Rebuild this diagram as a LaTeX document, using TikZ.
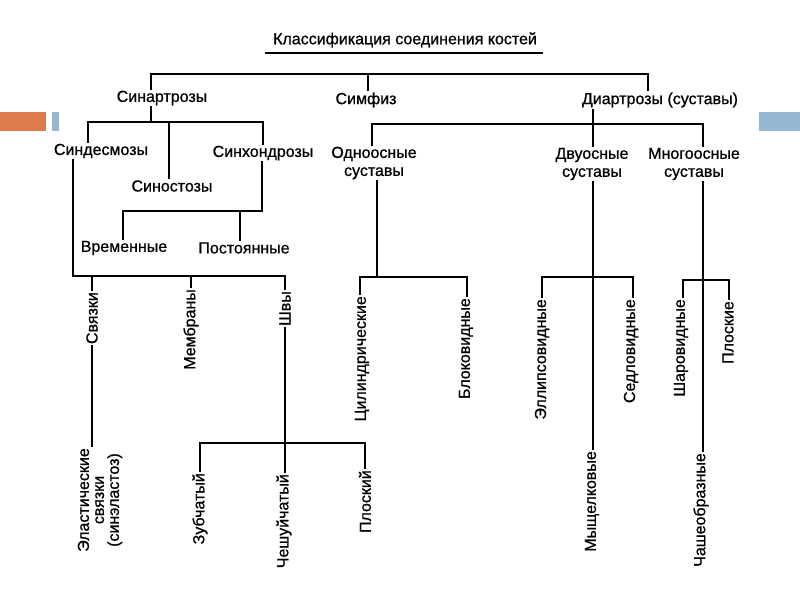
\documentclass[tikz,border=0pt]{standalone}
\usepackage{fontspec}
\setmainfont[FakeBold=0.8]{Liberation Sans}
\definecolor{barorange}{HTML}{E07B4B}
\definecolor{barblue}{HTML}{94B6D2}
\newcommand{\lbfont}{\fontsize{16}{18}\selectfont}
\tikzset{
  lbl/.style={font=\lbfont, inner sep=1pt, text=black},
  vlbl/.style={lbl, rotate=90, anchor=east},
  ln/.style={line width=1.7pt, black}
}
\begin{document}
\begin{tikzpicture}[x=1pt,y=-1pt]
\useasboundingbox (0,0) rectangle (800,600);
\fill[white] (0,0) rectangle (800,600);
% decorative bars
\fill[barorange] (0,112) rectangle (46,131);
\fill[barblue] (52,112) rectangle (59,131);
\fill[barblue] (759,112) rectangle (800,131);

% title
\node[lbl] (title) at (405,40) {Классификация соединения костей};
\draw[line width=2.4pt] (265,53) -- (543,53);

% level 1
\node[lbl] (sin) at (162,98) {Синартрозы};
\node[lbl] (simf) at (366,100) {Симфиз};
\node[lbl] (diar) at (660,100) {Диартрозы (суставы)};

\coordinate (T1) at (151,74);
\coordinate (T2) at (368,74);
\coordinate (T3) at (648,74);
\draw[ln] (T1 |- sin.north) -- (T1) -- (T3) -- (T3 |- diar.north);
\draw[ln] (T2) -- (T2 |- simf.north);

% synarthroses
\node[lbl] (sind) at (101,151) {Синдесмозы};
\node[lbl] (sinost) at (172,186) {Синостозы};
\node[lbl] (sinh) at (263,153) {Синхондрозы};
\coordinate (S0) at (151,122);
\coordinate (SA) at (88,122);
\coordinate (SB) at (169,122);
\coordinate (SC) at (263,122);
\draw[ln] (S0 |- sin.south) -- (S0);
\draw[ln] (SA |- sind.north) -- (SA) -- (SC) -- (SC |- sinh.north);
\draw[ln] (SB) -- (SB |- sinost.north);

% synchondroses
\node[lbl] (vrem) at (124,248) {Временные};
\node[lbl] (post) at (244,248) {Постоянные};
\coordinate (H0) at (262,211);
\coordinate (HA) at (123,211);
\coordinate (HB) at (240,211);
\draw[ln] (H0 |- sinh.south) -- (H0) -- (HA) -- (HA |- vrem.north);
\draw[ln] (HB) -- (HB |- post.north);

% syndesmoses
\node[vlbl] (svyaz) at (92,291) {Связки};
\node[vlbl] (memb) at (191,288) {Мембраны};
\node[vlbl] (shvy) at (285,290) {Швы};
\node[lbl, rotate=90, align=center, font=\fontsize{16}{15}\selectfont] (elast) at (100,500) {Эластические\\связки\\(синэластоз)};
\coordinate (D0) at (73,276);
\coordinate (DA) at (92,276);
\coordinate (DB) at (191,276);
\coordinate (DC) at (285,276);
\draw[ln] (D0 |- sind.south) -- (D0) -- (DC) -- (DC |- shvy.east);
\draw[ln] (DA) -- (DA |- svyaz.east);
\draw[ln] (DB) -- (DB |- memb.east);
\draw[ln] (DA |- svyaz.west) -- (DA |- elast.east);

% sutures
\node[vlbl] (zub) at (200,472) {Зубчатый};
\node[vlbl] (chesh) at (284,473) {Чешуйчатый};
\node[vlbl] (plosk) at (365,469) {Плоский};
\coordinate (W0) at (285,443);
\coordinate (WA) at (200,443);
\coordinate (WC) at (365,443);
\draw[ln] (W0 |- shvy.west) -- (W0) -- (W0 |- chesh.east);
\draw[ln] (WA |- zub.east) -- (WA) -- (WC) -- (WC |- plosk.east);

% diarthroses
\node[lbl, align=center] (odno) at (374,163) {Одноосные\\суставы};
\node[lbl, align=center] (dvu) at (592,164) {Двуосные\\суставы};
\node[lbl, align=center] (mnogo) at (694,164) {Многоосные\\суставы};
\coordinate (R0) at (593,124);
\coordinate (RA) at (372,124);
\coordinate (RC) at (703,124);
\draw[ln] (R0 |- diar.south) -- (R0) -- (R0 |- dvu.north);
\draw[ln] (RA |- odno.north) -- (RA) -- (RC) -- (RC |- mnogo.north);

% uniaxial
\node[vlbl] (cyl) at (362,295) {Цилиндрические};
\node[vlbl] (blok) at (466,297) {Блоковидные};
\coordinate (U0) at (377,277);
\coordinate (UA) at (360,277);
\coordinate (UC) at (467,277);
\draw[ln] (U0 |- odno.south) -- (U0);
\draw[ln] (UA |- cyl.east) -- (UA) -- (UC) -- (UC |- blok.east);

% biaxial
\node[vlbl] (ell) at (542,298) {Эллипсовидные};
\node[vlbl] (sedl) at (631,298) {Седловидные};
\node[vlbl] (mysh) at (592,450) {Мыщелковые};
\coordinate (B0) at (593,277);
\coordinate (BA) at (542,277);
\coordinate (BC) at (633,277);
\draw[ln] (B0 |- dvu.south) -- (B0) -- (B0 |- mysh.east);
\draw[ln] (BA |- ell.east) -- (BA) -- (BC) -- (BC |- sedl.east);

% multiaxial
\node[vlbl] (shar) at (681,298) {Шаровидные};
\node[vlbl] (plosk2) at (728,300) {Плоские};
\node[vlbl] (chash) at (701,452) {Чашеобразные};
\coordinate (M0) at (703,280);
\coordinate (MA) at (683,280);
\coordinate (MC) at (729,280);
\draw[ln] (M0 |- mnogo.south) -- (M0) -- (M0 |- chash.east);
\draw[ln] (MA |- shar.east) -- (MA) -- (MC) -- (MC |- plosk2.east);
\end{tikzpicture}
\end{document}
